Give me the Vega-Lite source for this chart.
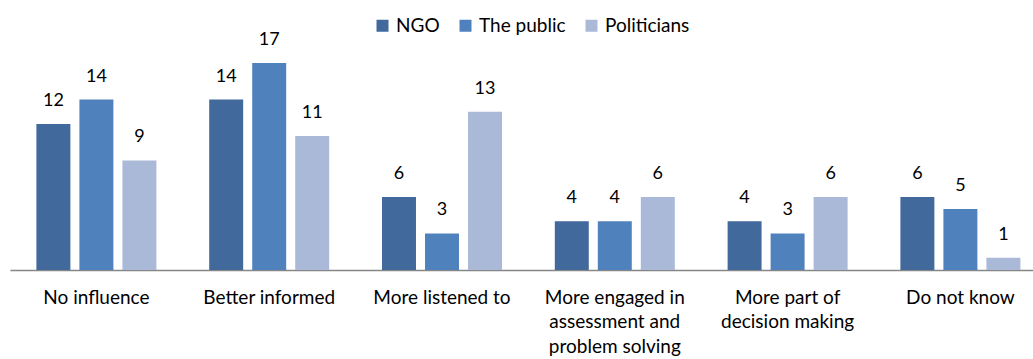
{
  "$schema": "https://vega.github.io/schema/vega-lite/v6.json",
  "autosize": "none",
  "width": 1023,
  "height": 207,
  "padding": {"left": 10, "top": 63, "right": 0, "bottom": 89},
  "background": "white",
  "config": {"view": {"stroke": null}, "font": "Lato"},
  "data": {"values": [
    {"cat": "No influence", "group": "NGO", "value": 12},
    {"cat": "No influence", "group": "The public", "value": 14},
    {"cat": "No influence", "group": "Politicians", "value": 9},
    {"cat": "Better informed", "group": "NGO", "value": 14},
    {"cat": "Better informed", "group": "The public", "value": 17},
    {"cat": "Better informed", "group": "Politicians", "value": 11},
    {"cat": "More listened to", "group": "NGO", "value": 6},
    {"cat": "More listened to", "group": "The public", "value": 3},
    {"cat": "More listened to", "group": "Politicians", "value": 13},
    {"cat": "More engaged in|assessment and|problem solving", "group": "NGO", "value": 4},
    {"cat": "More engaged in|assessment and|problem solving", "group": "The public", "value": 4},
    {"cat": "More engaged in|assessment and|problem solving", "group": "Politicians", "value": 6},
    {"cat": "More part of|decision making", "group": "NGO", "value": 4},
    {"cat": "More part of|decision making", "group": "The public", "value": 3},
    {"cat": "More part of|decision making", "group": "Politicians", "value": 6},
    {"cat": "Do not know", "group": "NGO", "value": 6},
    {"cat": "Do not know", "group": "The public", "value": 5},
    {"cat": "Do not know", "group": "Politicians", "value": 1}
  ]},
  "encoding": {
    "x": {"field": "cat", "type": "nominal", "sort": null,
      "scale": {"range": [0, 1036.8], "paddingInner": 0, "paddingOuter": 0},
      "axis": {"title": null, "labelAngle": 0, "ticks": false, "domainColor": "#868686", "domainWidth": 1.5,
        "labelExpr": "split(datum.label, '|')", "labelFontSize": 19, "labelColor": "#000000",
        "labelPadding": 18, "labelLineHeight": 24.5, "labelBaseline": "top", "labelLimit": 220}},
    "xOffset": {"field": "group", "type": "nominal", "sort": ["NGO", "The public", "Politicians"],
      "scale": {"paddingInner": 0.21, "paddingOuter": 0.614}},
    "y": {"field": "value", "type": "quantitative", "scale": {"domain": [0, 17], "nice": false}, "axis": null}
  },
  "layer": [
    {"mark": {"type": "bar"},
     "encoding": {"color": {"field": "group", "type": "nominal", "sort": ["NGO", "The public", "Politicians"],
       "scale": {"domain": ["NGO", "The public", "Politicians"], "range": ["#41699C", "#4F81BD", "#AAB9D7"]},
       "legend": {"title": null, "orient": "none", "direction": "horizontal", "legendX": 363, "legendY": -47,
         "symbolType": "square", "symbolSize": 144, "symbolStrokeWidth": 0, "labelFontSize": 19, "labelColor": "#000000",
         "columnPadding": 16, "labelOffset": 4}}}},
    {"mark": {"type": "text", "baseline": "middle", "dy": -23, "fontSize": 18, "color": "#000000"},
     "encoding": {"text": {"field": "value", "type": "quantitative"}}}
  ]
}
